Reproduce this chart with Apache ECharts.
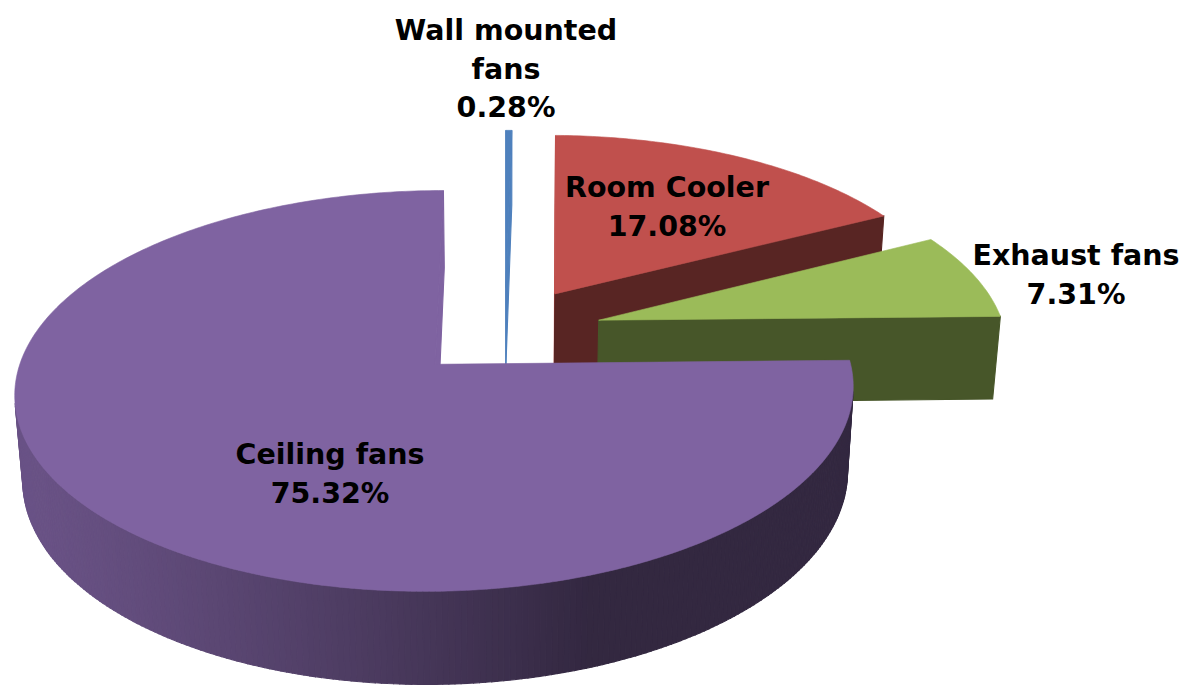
<!DOCTYPE html>
<html>
<head>
<meta charset="utf-8">
<script src="https://cdn.jsdelivr.net/npm/echarts@6/dist/echarts.min.js"></script>
<style>
  html, body { margin: 0; padding: 0; background: #ffffff; }
  #chart { width: 1188px; height: 686px; }
</style>
</head>
<body>
<div id="chart"></div>
<script>
// Share of fan energy use by appliance type (%)
const categories = ['Wall mounted\nfans', 'Room Cooler', 'Exhaust fans', 'Ceiling fans'];
const shares = [0.28, 17.08, 7.31, 75.32];

// Slice colours (top face); sides are darker shades of these
const sliceColors = ['#4F81BD', '#C0504D', '#9BBB59', '#7F63A1'];

// Label block centres in pixels
const labelCenters = [[506, 69], [667, 207], [1076, 275], [330, 474]];

// Camera / extrusion settings for the tilted, exploded pie
const view = {
  ox: 505, oy: 331.3,      // screen position of the pie centre
  focal: 2770,             // focal length in px (pie radius = 1)
  dist: 6.82,              // camera distance from the pie centre
  tilt: 27.6,              // viewing elevation in degrees
  thickness: 0.235,        // pie height relative to radius
  explode: 0.24            // slice offset relative to radius
};

const DEG = Math.PI / 180;
const sinT = Math.sin(view.tilt * DEG);
const cosT = Math.cos(view.tilt * DEG);
const camera = [0, view.dist * sinT, -view.dist * cosT];
const total = shares.reduce((a, b) => a + b, 0);

// X: east, Z: away from viewer, Y: up (top face at 0)
function project(X, Y, Z) {
  const yc = Z * sinT + Y * cosT;
  const zc = Z * cosT - Y * sinT;
  const k = view.focal / (view.dist + zc);
  return { x: view.ox + X * k, y: view.oy - yc * k, d: zc, X: X, Y: Y, Z: Z };
}

function shade(hex, f) {
  const n = parseInt(hex.slice(1), 16);
  const r = Math.round(((n >> 16) & 255) * f);
  const g = Math.round(((n >> 8) & 255) * f);
  const b = Math.round((n & 255) * f);
  return 'rgb(' + r + ',' + g + ',' + b + ')';
}

// brightness of the curved rim, lit from the lower left
function rimShade(deg) {
  return 0.40 + 0.43 * Math.max(0, Math.cos((deg - 250) * DEG));
}

function renderItem(params, api) {
  const i = params.dataIndex;
  const value = api.value(1);
  let before = 0;
  for (let k = 0; k < i; k++) before += shares[k];
  const a0 = before / total * 360;
  const a1 = (before + value) / total * 360;
  const mid = (a0 + a1) / 2 * DEG;
  const cx = view.explode * Math.sin(mid);
  const cz = view.explode * Math.cos(mid);
  const H = view.thickness;
  const color = sliceColors[i];

  const rim = (deg, Y) => project(cx + Math.sin(deg * DEG), Y, cz + Math.cos(deg * DEG));
  const apexTop = project(cx, 0, cz);
  const apexBot = project(cx, -H, cz);

  const children = [];

  function addSide(pts, fill) {
    let A = 0;
    for (let k = 0; k < pts.length; k++) {
      const p = pts[k], q = pts[(k + 1) % pts.length];
      A += p.x * q.y - q.x * p.y;
    }
    if (A >= 0) return; // facing away from the viewer
    const depth = pts.reduce((s, p) => s + p.d, 0) / pts.length;
    children.push({
      type: 'polygon',
      z2: 100 - depth * 20,
      shape: { points: pts.map(p => [p.x, p.y]) },
      style: { fill: fill, stroke: fill, lineWidth: 1.1 }
    });
  }

  // flat cut face: darker when seen face-on, base colour when seen edge-on
  function cutFill(deg, sign) {
    const nx = sign * Math.cos(deg * DEG), nz = -sign * Math.sin(deg * DEG);
    const px = cx + 0.5 * Math.sin(deg * DEG), pz = cz + 0.5 * Math.cos(deg * DEG);
    const vx = camera[0] - px, vy = camera[1] + H / 2, vz = camera[2] - pz;
    const facing = (nx * vx + nz * vz) / Math.sqrt(vx * vx + vy * vy + vz * vz);
    return facing < 0.03 ? color : shade(color, 0.46);
  }

  const steps = Math.max(2, Math.ceil((a1 - a0) / 0.75));
  const angles = [];
  for (let k = 0; k <= steps; k++) angles.push(a0 + (a1 - a0) * k / steps);

  // curved outer wall
  for (let k = 0; k < steps; k++) {
    const ta = angles[k], tb = angles[k + 1];
    addSide([rim(ta, 0), rim(tb, 0), rim(tb, -H), rim(ta, -H)], shade(color, rimShade((ta + tb) / 2)));
  }
  // radial cut faces
  addSide([apexTop, rim(a0, 0), rim(a0, -H), apexBot], cutFill(a0, -1));
  addSide([apexTop, apexBot, rim(a1, -H), rim(a1, 0)], cutFill(a1, 1));

  // top face
  const topPts = [[apexTop.x, apexTop.y]].concat(angles.map(t => { const p = rim(t, 0); return [p.x, p.y]; }));
  children.push({
    type: 'polygon',
    z2: 500,
    shape: { points: topPts },
    style: { fill: color, stroke: color, lineWidth: 0.6 }
  });

  // data label
  children.push({
    type: 'text',
    z2: 600,
    style: {
      text: categories[i] + '\n' + value.toFixed(2) + '%',
      x: labelCenters[i][0],
      y: labelCenters[i][1],
      align: 'center',
      verticalAlign: 'middle',
      fontFamily: 'DejaVu Sans',
      fontWeight: 'bold',
      fontSize: 28.5,
      lineHeight: 38.5,
      fill: '#000000'
    }
  });

  return { type: 'group', children: children };
}

const chart = echarts.init(document.getElementById('chart'), null, { renderer: 'svg' });
chart.setOption({
  backgroundColor: '#ffffff',
  animation: false,
  series: [{
    type: 'custom',
    coordinateSystem: 'none',
    renderItem: renderItem,
    data: shares.map((v, i) => [i, v])
  }]
});
</script>
</body>
</html>
